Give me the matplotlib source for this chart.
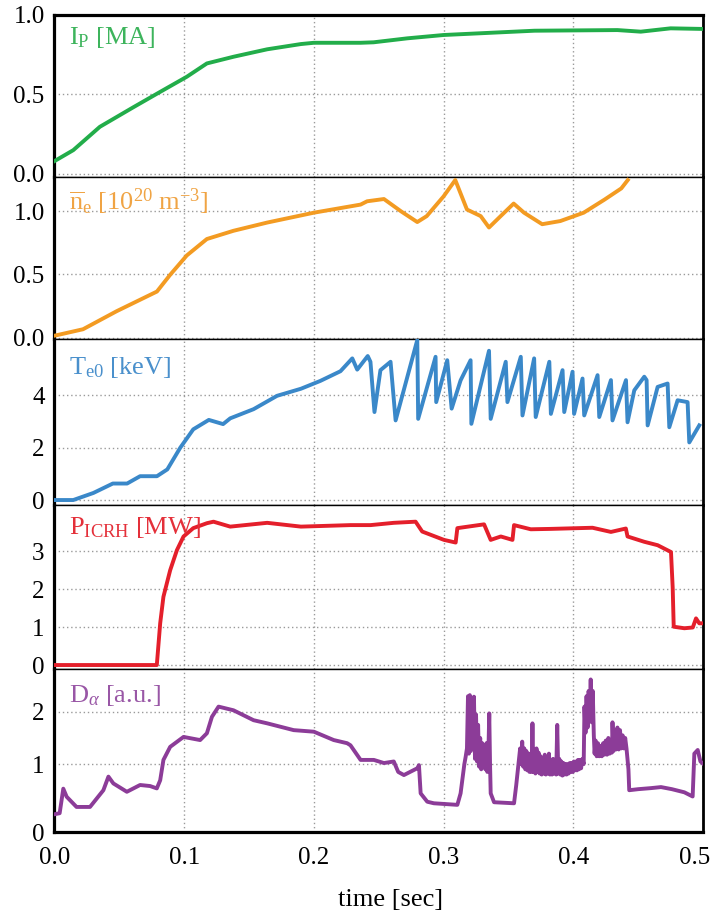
import matplotlib
matplotlib.use("Agg")
import matplotlib.pyplot as plt
from matplotlib.ticker import FormatStrFormatter
from matplotlib.transforms import ScaledTranslation

# plasma current [MA]
ip_t = [0.0, 0.0145, 0.035, 0.061, 0.0815, 0.102, 0.1175, 0.138, 0.164, 0.19, 0.2,
        0.236, 0.246, 0.272, 0.300, 0.344, 0.37, 0.434, 0.452, 0.475, 0.501]
ip_v = [0.08, 0.149, 0.296, 0.42, 0.516, 0.611, 0.695, 0.737, 0.784, 0.817, 0.825,
        0.825, 0.828, 0.853, 0.874, 0.891, 0.901, 0.905, 0.895, 0.916, 0.912]

# line averaged density [1e20 m^-3]
ne_t = [0.0, 0.022, 0.048, 0.079, 0.089, 0.102, 0.1175, 0.138, 0.164, 0.2, 0.236, 0.241,
        0.254, 0.267, 0.2797, 0.287, 0.300, 0.309, 0.318, 0.3286, 0.335, 0.344, 0.354,
        0.362, 0.376, 0.390, 0.408, 0.424, 0.437, 0.442]
ne_v = [0.016, 0.067, 0.21, 0.365, 0.495, 0.65, 0.78, 0.845, 0.91, 0.988, 1.052, 1.078,
        1.096, 1.0, 0.914, 0.961, 1.117, 1.246, 1.013, 0.961, 0.871, 0.961, 1.06,
        0.988, 0.897, 0.922, 0.988, 1.091, 1.18, 1.246]

# central electron temperature [keV]
te_t = [0.0, 0.0145, 0.030, 0.045, 0.056, 0.066, 0.079, 0.087, 0.097, 0.107, 0.119, 0.130,
        0.1355, 0.1535, 0.1716, 0.19, 0.205, 0.2205, 0.2296, 0.2334, 0.2415, 0.2436,
        0.2467, 0.2513, 0.2591, 0.2630, 0.2797, 0.2804, 0.2938, 0.2943, 0.3028, 0.3062,
        0.3131, 0.3208, 0.3214, 0.335, 0.3363, 0.3479, 0.3492, 0.3595, 0.3608, 0.3698,
        0.3710, 0.3815, 0.3827, 0.3917, 0.3930, 0.3994, 0.4006, 0.4071, 0.4084, 0.4187,
        0.4200, 0.4290, 0.4302, 0.4406, 0.4418, 0.4470, 0.4547, 0.4565, 0.4573, 0.4650,
        0.4727, 0.4740, 0.4804, 0.4881, 0.4894, 0.4971]
te_v = [0.0, 0.0, 0.27, 0.63, 0.63, 0.91, 0.91, 1.17, 2.0, 2.70, 3.06, 2.90,
        3.12, 3.47, 3.98, 4.25, 4.55, 4.92, 5.41, 4.98, 5.50, 5.28,
        3.36, 4.96, 5.28, 3.04, 6.11, 3.10, 5.47, 3.74, 5.34, 3.49,
        4.57, 5.34, 2.91, 5.70, 3.10, 5.28, 3.74, 5.47, 3.23, 5.41,
        3.17, 5.28, 3.29, 4.96, 3.36, 4.90, 3.29, 4.64, 3.23, 4.77,
        3.17, 4.58, 3.04, 4.58, 2.97, 4.19, 4.71, 4.58, 2.85, 4.32,
        4.45, 2.78, 3.81, 3.74, 2.20, 2.85]

# ICRH power [MW]
picrh_t = [0.0, 0.0789, 0.0815, 0.084, 0.0892, 0.0944, 0.0995, 0.107, 0.1175, 0.1226,
           0.1355, 0.164, 0.19, 0.2282, 0.2437, 0.2616, 0.2784, 0.2835, 0.3003, 0.3093,
           0.3106, 0.3312, 0.3363, 0.3441, 0.3531, 0.3543, 0.3672, 0.3826, 0.4148, 0.429,
           0.4405, 0.4418, 0.4547, 0.465, 0.4753, 0.4766, 0.4774, 0.4856, 0.4921, 0.4946,
           0.4971, 0.501]
picrh_v = [0.0, 0.0, 1.1, 1.8, 2.5, 3.03, 3.39, 3.61, 3.74, 3.78,
           3.65, 3.75, 3.65, 3.69, 3.69, 3.75, 3.78, 3.52, 3.30, 3.23,
           3.61, 3.71, 3.30, 3.39, 3.30, 3.69, 3.58, 3.59, 3.62, 3.51,
           3.60, 3.39, 3.25, 3.16, 2.98, 2.05, 1.01, 0.97, 0.99, 1.23,
           1.10, 1.10]

# D-alpha emission [a.u.]
da_t = [0.0, 0.004, 0.0068, 0.0094, 0.017, 0.0274, 0.0326, 0.0377, 0.0416, 0.0454,
        0.0558, 0.066, 0.0737, 0.0789, 0.0815, 0.084, 0.0892, 0.0995, 0.1123, 0.1175,
        0.1214, 0.1265, 0.138, 0.1535, 0.164, 0.1844, 0.2, 0.2153, 0.2256, 0.2282,
        0.236, 0.2462, 0.2540, 0.2616, 0.2650, 0.2694, 0.2797, 0.2810, 0.2823, 0.2874,
        0.2925, 0.3106, 0.3131, 0.3160,
        0.3170, 0.3180, 0.3188, 0.3195, 0.3202, 0.3210, 0.3218, 0.3226, 0.3234, 0.3242,
        0.3250, 0.3258, 0.3266, 0.3274, 0.3282, 0.3290, 0.3298, 0.3306, 0.3314, 0.3322,
        0.3330, 0.3337, 0.3345, 0.3352, 0.3358, 0.3363, 0.3389,
        0.3543, 0.3560, 0.3575, 0.3590, 0.3598, 0.3606, 0.3614, 0.3622, 0.3630, 0.3638,
        0.3646, 0.3654, 0.3662, 0.3670, 0.3678, 0.3685, 0.3692, 0.3700, 0.3708, 0.3716,
        0.3724, 0.3732, 0.3740, 0.3748, 0.3756, 0.3764, 0.3772, 0.3780, 0.3788, 0.3796,
        0.3804, 0.3812, 0.3820, 0.3828, 0.3836, 0.3844, 0.3852, 0.3860, 0.3868, 0.3876,
        0.3884, 0.3892, 0.3900, 0.3908, 0.3916, 0.3924, 0.3932, 0.3940, 0.3948, 0.3956,
        0.3964, 0.3972, 0.3980, 0.3988, 0.3996, 0.4004, 0.4012, 0.4020, 0.4028, 0.4036,
        0.4044, 0.4052, 0.4060, 0.4070, 0.4080,
        0.4086, 0.4094, 0.4102, 0.4110, 0.4118, 0.4126, 0.4134, 0.4142, 0.4150, 0.4158,
        0.4164,
        0.4172, 0.4180, 0.4190, 0.4200, 0.4210, 0.4220, 0.4230, 0.4240, 0.4250, 0.4260,
        0.4270, 0.4280, 0.4290, 0.4298, 0.4302, 0.4310, 0.4320, 0.4330, 0.4340, 0.4350,
        0.4360, 0.4370, 0.4380, 0.4390, 0.4400, 0.4410, 0.4425, 0.4431,
        0.4500, 0.4598, 0.4676, 0.4760, 0.4856, 0.4920, 0.4933, 0.4959, 0.4980, 0.5]
da_v = [0.04, 0.06, 0.53, 0.375, 0.18, 0.18, 0.34, 0.50, 0.76, 0.63,
        0.47, 0.60, 0.58, 0.535, 0.69, 1.08, 1.33, 1.52, 1.46, 1.59,
        1.905, 2.10, 2.03, 1.84, 1.78, 1.65, 1.62, 1.46, 1.40, 1.36,
        1.08, 1.08, 1.02, 1.05, 0.85, 0.79, 0.92, 0.98, 0.44, 0.28,
        0.25, 0.22, 0.44, 1.00,
        1.14, 1.30, 2.30, 1.20, 2.32, 1.25, 2.25, 1.35, 2.29, 1.10,
        1.95, 1.05, 1.75, 0.95, 1.50, 0.90, 1.40, 0.95, 1.35, 0.90,
        1.40, 0.85, 1.20, 1.97, 1.00, 0.44, 0.27,
        0.25, 0.60, 0.95, 1.30, 1.00, 1.43, 0.95, 1.30, 0.90, 1.25,
        0.88, 1.20, 0.85, 1.20, 0.85, 1.78, 0.85, 1.25, 0.82, 1.30,
        0.85, 1.22, 0.82, 1.15, 0.80, 1.12, 0.82, 1.18, 0.80, 1.10,
        0.82, 1.20, 0.80, 1.08, 0.80, 1.10, 0.82, 1.05, 0.80, 1.75,
        0.82, 1.10, 0.80, 1.05, 0.78, 1.02, 0.80, 1.00, 0.80, 1.00,
        0.82, 1.02, 0.85, 1.02, 0.85, 1.05, 0.88, 1.05, 0.88, 1.08,
        0.90, 1.08, 0.92, 1.10, 1.00,
        2.10, 1.60, 2.30, 1.70, 2.40, 1.90, 2.62, 1.80, 2.40, 1.55,
        1.20,
        1.45, 1.15, 1.40, 1.15, 1.35, 1.15, 1.40, 1.18, 1.45, 1.18,
        1.50, 1.20, 1.45, 1.22, 1.80, 1.25, 1.55, 1.28, 1.70, 1.28,
        1.65, 1.30, 1.55, 1.30, 1.50, 1.30, 0.90, 0.50,
        0.52, 0.54, 0.56, 0.52, 0.46, 0.38, 1.20, 1.27, 1.05, 1.01]

panels = [
    dict(t=ip_t, v=ip_v, color='#22ad4a', lcolor='#3db45c',
         label=r'I$_\mathrm{P}$ [MA]', ylim=(-0.02, 1.0),
         ticks=[0.0, 0.5, 1.0], ticklabels=['0.0', '0.5', '1.0'], ly=0.86),
    dict(t=ne_t, v=ne_v, color='#f39b22', lcolor='#f0a444',
         label=r'$\overline{\mathrm{n}}_\mathrm{e}$ [10$^{20}$ m$^{-3}$]', ylim=(-0.01, 1.27),
         ticks=[0.0, 0.5, 1.0], ticklabels=['0.0', '0.5', '1.0'], ly=0.85),
    dict(t=te_t, v=te_v, color='#3a88c9', lcolor='#4a90cc',
         label=r'T$_\mathrm{e0}$ [keV]', ylim=(-0.19, 6.15),
         ticks=[0, 2, 4], ticklabels=['0', '2', '4'], ly=0.83),
    dict(t=picrh_t, v=picrh_v, color='#e41f2b', lcolor='#e4303a',
         label=r'P$_\mathrm{ICRH}$ [MW]', ylim=(-0.105, 4.22),
         ticks=[0, 1, 2, 3], ticklabels=['0', '1', '2', '3'], ly=0.86),
    dict(t=da_t, v=da_v, color='#8c3c98', lcolor='#9957a6',
         label=r'D$_\alpha$ [a.u.]', ylim=(-0.30, 2.82),
         ticks=[-0.30, 1, 2], ticklabels=['0', '1', '2'], ly=0.84),
]

plt.rcParams['font.family'] = ['Liberation Serif', 'DejaVu Serif']
plt.rcParams['mathtext.fontset'] = 'custom'
plt.rcParams['mathtext.rm'] = 'Liberation Serif'
plt.rcParams['mathtext.it'] = 'Liberation Serif:italic'

fig = plt.figure(figsize=(7.12, 9.14), dpi=100)
gs = fig.add_gridspec(5, 1, left=0.0765, right=0.9874, top=0.9836, bottom=0.0897,
                      hspace=0, height_ratios=[162, 162, 166, 164, 163])

for i, p in enumerate(panels):
    ax = fig.add_subplot(gs[i])
    ax.plot(p['t'], p['v'], color=p['color'], lw=2.8, solid_joinstyle='round', zorder=3)
    ax.set_xlim(0, 0.5)
    ax.set_ylim(*p['ylim'])
    ax.set_yticks(p['ticks'])
    ax.set_yticklabels(p['ticklabels'])
    ax.set_xticks([0.0, 0.1, 0.2, 0.3, 0.4, 0.5])
    ax.xaxis.set_major_formatter(FormatStrFormatter('%.1f'))
    ax.grid(True, color='#9a9a9a', linestyle=(0, (1, 2)), linewidth=1.0)
    ax.tick_params(length=0, labelsize=18, pad=7)
    ax.tick_params(axis='x', pad=11)
    if i < 4:
        ax.tick_params(labelbottom=False)
    ax.spines['left'].set_linewidth(2.3)
    ax.spines['right'].set_linewidth(2.0)
    ax.spines['top'].set_linewidth(2.3 if i == 0 else 1.0)
    ax.spines['bottom'].set_linewidth(2.3 if i == 4 else 1.0)
    ax.text(0.022, p['ly'], p['label'], transform=ax.transAxes, color=p['lcolor'],
            fontsize=19, ha='left', va='center', zorder=4)

# keep the last time label inside the figure, as in the original
fig.canvas.draw()
last = ax.get_xticklabels()[-1]
last.set_transform(last.get_transform() + ScaledTranslation(-6 / 72, 0, fig.dpi_scale_trans))

fig.text(391 / 712, 1 - 900 / 914, 'time [sec]', fontsize=19, ha='center', va='center')

fig.savefig('out.png', dpi=100)
